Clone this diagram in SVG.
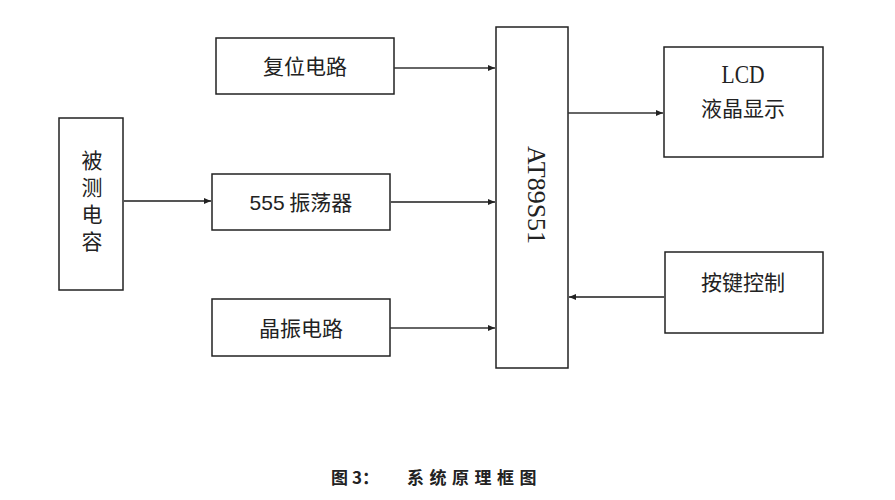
<svg xmlns="http://www.w3.org/2000/svg" width="895" height="500" viewBox="0 0 895 500">
<style>
.box{fill:#fff;stroke:#222;stroke-width:1.5}
.cn{font-family:"Noto Sans CJK SC","Noto Sans",sans-serif;font-size:21px;fill:#222;text-anchor:middle}
.en{font-family:"Liberation Serif",serif;fill:#222;text-anchor:middle}
.ln{stroke:#333;stroke-width:1.5;fill:none;marker-end:url(#ah)}
.ln2{stroke:#555;stroke-width:2.2;fill:none;marker-end:url(#ah)}
.cap{font-family:"Noto Sans CJK SC",sans-serif;font-size:17px;font-weight:bold;fill:#222}
</style>
<defs>
<marker id="ah" markerWidth="8" markerHeight="8" refX="7" refY="4" orient="auto" markerUnits="userSpaceOnUse">
<path d="M0,1 L7,4 L0,7 Z" fill="#222"/>
</marker>
</defs>
<rect width="895" height="500" fill="#fff"/>
<g id="fuwei"><rect class="box" x="216" y="38" width="178" height="56"/><text class="cn" x="305" y="74">复位电路</text></g>
<g id="osc555"><rect class="box" x="212" y="174" width="178" height="56"/><text class="cn" x="301" y="210"><tspan font-family="Liberation Sans Narrow, Liberation Sans, sans-serif">555</tspan> 振荡器</text></g>
<g id="jingzhen"><rect class="box" x="212" y="299" width="178" height="57"/><text class="cn" x="301" y="336">晶振电路</text></g>
<g id="cap"><rect class="box" x="59" y="118" width="64" height="172"/>
<text class="cn" x="92" y="204" style="writing-mode:vertical-rl" letter-spacing="6">被测电容</text></g>
<g id="mcu"><rect class="box" x="496" y="27" width="72" height="341"/><text class="en" font-size="26" transform="translate(528,195) rotate(90)" x="0" y="0">AT89S51</text></g>
<g id="lcd"><rect class="box" x="664" y="47" width="159" height="110"/><text class="en" font-size="25" x="743" y="83" textLength="43" lengthAdjust="spacingAndGlyphs">LCD</text><text class="cn" x="743" y="116">液晶显示</text></g>
<g id="keys"><rect class="box" x="665" y="252" width="158" height="81"/><text class="cn" x="743" y="290">按键控制</text></g>
<g id="connectors">
<line class="ln" x1="394" y1="68" x2="495" y2="68"/>
<line class="ln2" x1="123" y1="201" x2="211" y2="201"/>
<line class="ln2" x1="390" y1="202" x2="495" y2="202"/>
<line class="ln" x1="390" y1="328" x2="495" y2="328"/>
<line class="ln" x1="568" y1="113" x2="663" y2="113"/>
<line class="ln2" x1="665" y1="297" x2="569" y2="297"/>
</g>
<text class="cap" y="484"><tspan x="331">图 </tspan><tspan x="352">3： </tspan><tspan x="407" letter-spacing="5.5">系统原理框图</tspan></text>
</svg>
